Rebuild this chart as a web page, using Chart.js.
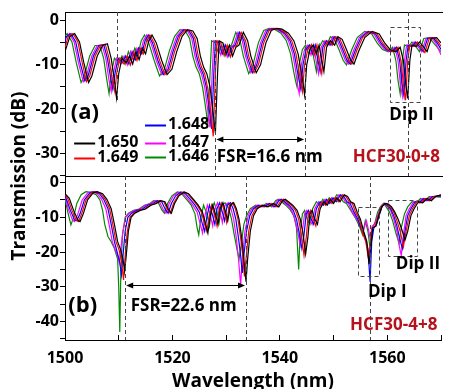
<!DOCTYPE html>
<html><head><meta charset="utf-8">
<script src="https://cdn.jsdelivr.net/npm/chart.js@4.4.1/dist/chart.umd.min.js"></script>
<style>html,body{margin:0;padding:0;background:#fff;overflow:hidden}#wrap{width:455px;height:389px}</style>
</head><body><div id="wrap"><canvas id="c" width="455" height="389"></canvas></div>
<script>
// ---- series labels / colours
const seriesLabels = ['1.650','1.649','1.648','1.647','1.646'];
const seriesColors = ['#000000','#ff0000','#0000ff','#ff00ff','#008a00'];
// ---- x ticks
const xTicks = [1500,1510,1520,1530,1540,1550,1560,1570];
// ---- panel (a) HCF30-0+8 : [wavelength nm, transmission dB]
const a650 = [[1500.0,-7.0],[1500.9,-3.6],[1501.8,-2.9],[1502.7,-4.8],[1503.5,-9.5],[1504.4,-14.0],[1505.0,-12.5],[1506.0,-8.0],[1507.0,-5.6],[1507.9,-5.2],[1508.6,-8.5],[1509.2,-13.5],[1509.6,-17.5],[1510.0,-12.0],[1510.6,-8.5],[1511.4,-9.5],[1512.0,-8.0],[1512.6,-9.8],[1513.2,-7.0],[1513.8,-8.8],[1514.4,-6.2],[1515.0,-7.5],[1515.6,-4.5],[1516.2,-3.2],[1517.0,-5.0],[1518.0,-9.0],[1519.0,-12.2],[1519.9,-11.0],[1520.8,-7.0],[1521.8,-3.5],[1522.8,-2.0],[1523.8,-2.3],[1524.6,-4.0],[1525.2,-8.0],[1525.8,-10.5],[1526.4,-12.0],[1527.0,-15.0],[1527.5,-20.0],[1528.0,-25.5],[1528.4,-12.0],[1528.7,-4.5],[1529.4,-5.0],[1530.0,-7.5],[1530.6,-5.5],[1531.2,-8.0],[1531.8,-6.0],[1532.4,-5.5],[1533.2,-2.6],[1534.0,-4.5],[1534.6,-8.0],[1535.6,-11.8],[1536.4,-10.0],[1537.4,-5.0],[1538.4,-2.2],[1539.4,-1.7],[1540.4,-1.9],[1541.6,-2.8],[1542.6,-4.5],[1543.4,-7.5],[1543.9,-11.0],[1544.3,-14.0],[1544.6,-16.8],[1545.0,-10.0],[1545.6,-6.5],[1546.2,-5.5],[1546.8,-7.5],[1547.3,-5.5],[1547.8,-9.0],[1548.2,-11.5],[1548.7,-6.0],[1549.4,-4.5],[1550.2,-5.5],[1550.8,-3.6],[1551.6,-4.2],[1552.4,-6.5],[1553.2,-9.0],[1553.8,-9.8],[1554.8,-6.5],[1555.8,-3.8],[1557.2,-2.4],[1558.5,-3.0],[1559.5,-5.0],[1560.5,-6.5],[1561.6,-7.0],[1562.4,-6.0],[1563.0,-9.0],[1563.4,-14.0],[1563.8,-17.6],[1564.2,-9.0],[1564.6,-5.5],[1565.4,-5.8],[1566.0,-4.8],[1566.8,-6.0],[1567.4,-7.0],[1568.2,-4.0],[1569.2,-3.8],[1570.0,-5.0]];
const a649 = [[1500.0,-6.0],[1500.6,-3.6],[1501.5,-2.9],[1502.4,-4.8],[1503.2,-9.5],[1504.0,-13.8],[1504.6,-12.5],[1505.6,-8.0],[1506.6,-5.6],[1507.5,-5.3],[1508.2,-8.5],[1508.8,-13.5],[1509.3,-16.2],[1509.6,-12.0],[1510.2,-8.5],[1511.0,-9.8],[1511.6,-8.0],[1512.2,-10.0],[1512.8,-7.0],[1513.4,-9.0],[1514.0,-6.2],[1514.6,-7.5],[1515.2,-4.5],[1515.8,-3.2],[1516.6,-5.0],[1517.6,-9.0],[1518.6,-12.2],[1519.5,-11.0],[1520.4,-7.0],[1521.4,-3.5],[1522.4,-2.0],[1523.4,-2.3],[1524.2,-4.0],[1524.8,-8.0],[1525.4,-10.5],[1526.0,-12.0],[1526.6,-15.5],[1527.1,-20.5],[1527.6,-26.2],[1528.0,-12.0],[1528.3,-4.5],[1529.0,-5.0],[1529.6,-7.8],[1530.2,-5.5],[1530.8,-8.2],[1531.4,-6.0],[1532.0,-5.5],[1532.8,-2.6],[1533.6,-4.5],[1534.2,-8.0],[1535.2,-11.8],[1536.0,-10.0],[1537.0,-5.0],[1538.0,-2.2],[1539.0,-1.7],[1540.0,-1.9],[1541.2,-2.8],[1542.2,-4.5],[1543.0,-7.5],[1543.5,-11.0],[1543.9,-14.0],[1544.2,-16.0],[1544.6,-10.0],[1545.2,-6.5],[1545.8,-5.5],[1546.4,-7.8],[1546.9,-5.5],[1547.4,-9.5],[1547.8,-12.0],[1548.3,-6.0],[1549.0,-4.5],[1549.8,-5.5],[1550.4,-3.6],[1551.2,-4.2],[1552.0,-6.5],[1552.8,-9.0],[1553.4,-9.8],[1554.4,-6.5],[1555.4,-3.8],[1556.8,-2.4],[1558.1,-3.0],[1559.1,-5.0],[1560.1,-6.5],[1561.2,-7.0],[1562.0,-6.0],[1562.6,-9.5],[1563.0,-14.5],[1563.4,-18.0],[1563.8,-9.0],[1564.2,-5.5],[1565.0,-5.8],[1565.6,-4.8],[1566.4,-6.0],[1567.0,-7.2],[1567.8,-4.0],[1568.8,-3.8],[1569.6,-5.0],[1570.0,-5.8]];
const a648 = [[1500.0,-5.0],[1500.2,-3.6],[1501.1,-2.9],[1502.0,-4.8],[1502.8,-9.5],[1503.7,-13.6],[1504.3,-12.5],[1505.3,-8.0],[1506.3,-5.6],[1507.2,-5.4],[1507.9,-8.5],[1508.5,-13.0],[1508.9,-15.5],[1509.3,-12.0],[1509.9,-8.5],[1510.7,-9.5],[1511.3,-8.0],[1511.9,-9.8],[1512.5,-7.0],[1513.1,-8.8],[1513.7,-6.2],[1514.3,-7.5],[1514.9,-4.5],[1515.5,-3.2],[1516.3,-5.0],[1517.3,-9.0],[1518.3,-12.2],[1519.2,-11.0],[1520.1,-7.0],[1521.1,-3.5],[1522.1,-2.0],[1523.1,-2.3],[1523.9,-4.0],[1524.5,-8.0],[1525.1,-10.5],[1525.7,-12.0],[1526.3,-15.0],[1526.8,-19.5],[1527.3,-24.5],[1527.7,-12.0],[1528.0,-4.5],[1528.7,-5.0],[1529.3,-7.5],[1529.9,-5.5],[1530.5,-8.0],[1531.1,-6.0],[1531.7,-5.5],[1532.5,-2.6],[1533.3,-4.5],[1533.9,-8.0],[1534.9,-11.8],[1535.7,-10.0],[1536.7,-5.0],[1537.7,-2.2],[1538.7,-1.7],[1539.7,-1.9],[1540.9,-2.8],[1541.9,-4.5],[1542.7,-7.5],[1543.2,-11.0],[1543.6,-13.5],[1543.9,-15.5],[1544.3,-10.0],[1544.9,-6.5],[1545.5,-5.5],[1546.1,-7.5],[1546.6,-5.5],[1547.1,-9.0],[1547.5,-11.5],[1548.0,-6.0],[1548.7,-4.5],[1549.5,-5.5],[1550.1,-3.6],[1550.9,-4.2],[1551.7,-6.5],[1552.5,-9.0],[1553.1,-9.8],[1554.1,-6.5],[1555.1,-3.8],[1556.5,-2.4],[1557.8,-3.0],[1558.8,-5.0],[1559.8,-6.5],[1560.9,-7.0],[1561.7,-6.0],[1562.3,-9.0],[1562.7,-14.0],[1563.1,-17.0],[1563.5,-9.0],[1563.9,-5.5],[1564.7,-5.8],[1565.3,-4.8],[1566.1,-6.0],[1566.7,-7.0],[1567.5,-4.0],[1568.5,-3.8],[1569.3,-5.0],[1570.0,-6.5]];
const a647 = [[1500.0,-4.2],[1500.8,-2.9],[1501.7,-4.8],[1502.5,-9.5],[1503.4,-13.8],[1504.0,-12.5],[1505.0,-8.0],[1506.0,-5.6],[1506.9,-5.5],[1507.6,-8.5],[1508.2,-13.5],[1508.6,-16.0],[1509.0,-12.0],[1509.6,-8.5],[1510.4,-9.8],[1511.0,-8.0],[1511.6,-10.0],[1512.2,-7.0],[1512.8,-9.0],[1513.4,-6.2],[1514.0,-7.5],[1514.6,-4.5],[1515.2,-3.2],[1516.0,-5.0],[1517.0,-9.0],[1518.0,-12.2],[1518.9,-11.0],[1519.8,-7.0],[1520.8,-3.5],[1521.8,-2.0],[1522.8,-2.3],[1523.6,-4.0],[1524.2,-8.0],[1524.8,-10.5],[1525.4,-12.0],[1526.0,-15.0],[1526.5,-19.5],[1527.0,-24.2],[1527.4,-12.0],[1527.7,-4.5],[1528.4,-5.0],[1529.0,-7.8],[1529.6,-5.5],[1530.2,-8.2],[1530.8,-6.0],[1531.4,-5.5],[1532.2,-2.6],[1533.0,-4.5],[1533.6,-8.0],[1534.6,-11.8],[1535.4,-10.0],[1536.4,-5.0],[1537.4,-2.2],[1538.4,-1.7],[1539.4,-1.9],[1540.6,-2.8],[1541.6,-4.5],[1542.4,-7.5],[1542.9,-11.0],[1543.3,-14.5],[1543.6,-16.5],[1544.0,-10.0],[1544.6,-6.5],[1545.2,-5.5],[1545.8,-7.8],[1546.3,-5.5],[1546.8,-9.5],[1547.2,-12.0],[1547.7,-6.0],[1548.4,-4.5],[1549.2,-5.5],[1549.8,-3.6],[1550.6,-4.2],[1551.4,-6.5],[1552.2,-9.0],[1552.8,-9.8],[1553.8,-6.5],[1554.8,-3.8],[1556.2,-2.4],[1557.5,-3.0],[1558.5,-5.0],[1559.5,-6.5],[1560.6,-7.0],[1561.4,-6.0],[1562.0,-9.0],[1562.4,-14.0],[1562.8,-17.0],[1563.2,-9.0],[1563.6,-5.5],[1564.4,-5.8],[1565.0,-4.8],[1565.8,-6.0],[1566.4,-7.0],[1567.2,-4.0],[1568.2,-3.8],[1569.0,-5.0],[1570.0,-7.7]];
const a646 = [[1500.0,-3.4],[1500.4,-2.9],[1501.3,-4.8],[1502.1,-9.5],[1503.0,-14.0],[1503.6,-12.5],[1504.6,-8.0],[1505.6,-5.6],[1506.5,-5.6],[1507.2,-8.5],[1507.8,-13.5],[1508.2,-16.5],[1508.6,-12.0],[1509.2,-8.5],[1510.0,-9.5],[1510.6,-8.0],[1511.2,-9.8],[1511.8,-7.0],[1512.4,-8.8],[1513.0,-6.2],[1513.6,-7.5],[1514.2,-4.5],[1514.8,-3.2],[1515.6,-5.0],[1516.6,-9.0],[1517.6,-12.5],[1518.5,-11.0],[1519.4,-7.0],[1520.4,-3.5],[1521.4,-2.0],[1522.4,-2.3],[1523.2,-4.0],[1523.8,-8.0],[1524.4,-10.5],[1525.0,-12.0],[1525.6,-15.0],[1526.1,-19.0],[1526.6,-23.5],[1527.0,-12.0],[1527.3,-4.5],[1528.0,-5.0],[1528.6,-7.5],[1529.2,-5.5],[1529.8,-8.0],[1530.4,-6.0],[1531.0,-5.5],[1531.8,-2.6],[1532.6,-4.5],[1533.2,-8.0],[1534.2,-12.0],[1535.0,-10.0],[1536.0,-5.0],[1537.0,-2.2],[1538.0,-1.7],[1539.0,-1.9],[1540.2,-2.8],[1541.2,-4.5],[1542.0,-7.5],[1542.5,-11.0],[1542.9,-13.5],[1543.2,-15.0],[1543.6,-10.0],[1544.2,-6.5],[1544.8,-5.5],[1545.4,-7.5],[1545.9,-5.5],[1546.4,-9.0],[1546.8,-11.5],[1547.3,-6.0],[1548.0,-4.5],[1548.8,-5.5],[1549.4,-3.6],[1550.2,-4.2],[1551.0,-6.5],[1551.8,-9.0],[1552.4,-10.0],[1553.4,-6.5],[1554.4,-3.8],[1555.8,-2.4],[1557.1,-3.0],[1558.1,-5.0],[1559.1,-6.5],[1560.2,-7.0],[1561.0,-6.0],[1561.6,-9.0],[1562.0,-13.5],[1562.4,-16.5],[1562.8,-9.0],[1563.2,-5.5],[1564.0,-5.8],[1564.6,-4.8],[1565.4,-6.0],[1566.0,-7.0],[1566.8,-4.0],[1567.8,-3.8],[1568.6,-5.0],[1570.0,-7.0]];
// ---- panel (b) HCF30-4+8
const b650 = [[1500.0,-3.2],[1500.8,-4.5],[1501.6,-8.0],[1502.4,-10.8],[1502.8,-11.2],[1503.4,-9.0],[1504.2,-5.0],[1505.2,-3.0],[1506.0,-2.6],[1507.0,-3.2],[1507.8,-4.8],[1508.6,-7.5],[1509.2,-12.0],[1509.8,-17.0],[1510.4,-19.5],[1510.8,-22.0],[1511.1,-25.5],[1511.4,-21.0],[1511.8,-14.0],[1512.3,-10.0],[1513.0,-8.8],[1514.0,-8.0],[1515.0,-7.6],[1516.0,-6.5],[1517.0,-6.0],[1517.8,-5.2],[1518.6,-5.5],[1519.3,-7.8],[1519.8,-8.8],[1520.4,-6.0],[1521.2,-3.8],[1522.2,-2.7],[1523.0,-3.2],[1524.0,-5.0],[1524.8,-6.5],[1525.6,-8.5],[1526.2,-12.0],[1526.6,-14.5],[1527.0,-10.0],[1527.5,-6.5],[1528.0,-9.0],[1528.5,-12.0],[1528.9,-7.5],[1529.4,-5.8],[1529.9,-8.5],[1530.3,-11.0],[1530.8,-6.5],[1531.4,-5.8],[1531.9,-7.5],[1532.4,-10.5],[1532.9,-16.0],[1533.3,-22.0],[1533.7,-28.5],[1534.0,-22.0],[1534.5,-14.0],[1535.1,-9.5],[1535.8,-7.5],[1536.8,-6.5],[1537.8,-7.0],[1538.8,-6.0],[1539.8,-7.0],[1540.5,-5.2],[1541.0,-4.8],[1541.6,-5.5],[1542.4,-6.5],[1543.2,-8.0],[1543.8,-10.5],[1544.3,-14.5],[1544.8,-20.5],[1545.2,-16.0],[1545.6,-9.0],[1546.0,-8.0],[1546.5,-10.5],[1547.0,-12.0],[1547.5,-7.5],[1548.2,-5.5],[1548.8,-6.5],[1549.4,-4.8],[1550.0,-6.0],[1550.6,-4.4],[1551.2,-5.5],[1552.0,-3.5],[1552.6,-4.0],[1553.2,-5.5],[1553.8,-6.0],[1554.4,-8.5],[1555.0,-10.5],[1555.6,-14.0],[1556.2,-17.0],[1556.6,-23.5],[1556.9,-19.0],[1557.3,-13.0],[1557.9,-12.5],[1558.4,-9.5],[1559.0,-7.0],[1559.6,-6.0],[1560.2,-6.2],[1560.8,-7.0],[1561.4,-8.5],[1562.0,-10.5],[1562.6,-13.0],[1563.3,-16.5],[1563.8,-14.0],[1564.4,-9.5],[1565.0,-7.5],[1565.8,-5.5],[1566.6,-5.8],[1567.4,-4.6],[1568.2,-5.2],[1569.0,-4.0],[1570.0,-3.5]];
const b649 = [[1500.0,-3.5],[1500.5,-4.5],[1501.3,-8.0],[1502.1,-10.8],[1502.5,-11.2],[1503.1,-9.0],[1503.9,-5.0],[1504.9,-3.0],[1505.7,-2.6],[1506.7,-3.2],[1507.5,-4.8],[1508.3,-7.5],[1508.9,-12.0],[1509.5,-17.0],[1510.1,-19.5],[1510.5,-22.5],[1510.9,-28.0],[1511.2,-21.0],[1511.6,-14.0],[1512.1,-10.0],[1512.8,-8.8],[1513.8,-8.0],[1514.8,-7.6],[1515.8,-6.5],[1516.8,-6.0],[1517.6,-5.2],[1518.4,-5.5],[1519.1,-7.8],[1519.6,-8.8],[1520.2,-6.0],[1521.0,-3.8],[1522.0,-2.7],[1522.8,-3.2],[1523.8,-5.0],[1524.6,-6.5],[1525.4,-8.5],[1526.0,-12.0],[1526.4,-14.0],[1526.8,-10.0],[1527.3,-6.5],[1527.8,-9.0],[1528.3,-12.5],[1528.7,-7.5],[1529.2,-5.8],[1529.7,-8.5],[1530.1,-11.5],[1530.6,-6.5],[1531.2,-5.8],[1531.7,-7.5],[1532.2,-10.5],[1532.7,-16.0],[1533.1,-21.0],[1533.4,-27.0],[1533.7,-22.0],[1534.2,-14.0],[1534.8,-9.5],[1535.5,-7.5],[1536.5,-6.5],[1537.5,-7.0],[1538.5,-6.0],[1539.5,-7.0],[1540.2,-5.2],[1540.7,-4.8],[1541.3,-5.5],[1542.1,-6.5],[1542.9,-8.0],[1543.5,-10.5],[1544.0,-15.0],[1544.5,-21.0],[1544.9,-16.0],[1545.3,-9.0],[1545.7,-8.0],[1546.2,-10.5],[1546.7,-12.5],[1547.2,-7.5],[1547.9,-5.5],[1548.5,-6.5],[1549.1,-4.8],[1549.7,-6.0],[1550.3,-4.4],[1550.9,-5.5],[1551.7,-3.5],[1552.3,-4.0],[1552.9,-5.5],[1553.5,-6.0],[1554.1,-8.5],[1554.8,-10.5],[1555.4,-14.5],[1556.0,-17.0],[1556.5,-22.0],[1556.8,-18.0],[1557.2,-13.0],[1557.8,-12.5],[1558.3,-9.5],[1558.9,-7.0],[1559.5,-6.0],[1560.0,-6.2],[1560.6,-7.0],[1561.2,-8.5],[1561.8,-11.0],[1562.4,-14.0],[1563.0,-18.5],[1563.5,-14.0],[1564.1,-9.5],[1564.7,-7.5],[1565.5,-5.5],[1566.3,-5.8],[1567.1,-4.6],[1567.9,-5.2],[1568.7,-4.0],[1570.0,-3.6]];
const b648 = [[1500.0,-3.4],[1500.2,-4.5],[1501.0,-8.0],[1501.8,-10.8],[1502.2,-11.0],[1502.8,-9.0],[1503.6,-5.0],[1504.6,-3.0],[1505.4,-2.6],[1506.4,-3.2],[1507.2,-4.8],[1508.0,-7.5],[1508.6,-12.0],[1509.2,-17.0],[1509.8,-20.5],[1510.2,-23.0],[1510.5,-26.5],[1510.8,-21.0],[1511.2,-14.0],[1511.7,-10.0],[1512.4,-8.8],[1513.4,-8.0],[1514.4,-7.6],[1515.4,-6.5],[1516.4,-6.0],[1517.2,-5.2],[1518.0,-5.5],[1518.7,-7.8],[1519.2,-8.8],[1519.8,-6.0],[1520.6,-3.8],[1521.6,-2.7],[1522.4,-3.2],[1523.4,-5.0],[1524.2,-6.5],[1525.0,-8.5],[1525.6,-12.0],[1526.0,-14.0],[1526.4,-10.0],[1526.9,-6.5],[1527.4,-9.0],[1527.9,-12.0],[1528.3,-7.5],[1528.8,-5.8],[1529.3,-8.5],[1529.7,-11.0],[1530.2,-6.5],[1530.8,-5.8],[1531.3,-7.5],[1531.8,-10.5],[1532.3,-16.0],[1532.7,-21.0],[1533.0,-26.0],[1533.3,-21.0],[1533.8,-14.0],[1534.4,-9.5],[1535.1,-7.5],[1536.1,-6.5],[1537.1,-7.0],[1538.1,-6.0],[1539.1,-7.0],[1539.8,-5.2],[1540.3,-4.8],[1540.9,-5.5],[1541.7,-6.5],[1542.5,-8.0],[1543.1,-10.5],[1543.6,-14.5],[1544.1,-19.0],[1544.5,-15.0],[1544.9,-9.0],[1545.3,-8.0],[1545.8,-10.5],[1546.3,-12.0],[1546.8,-7.5],[1547.5,-5.5],[1548.1,-6.5],[1548.7,-4.8],[1549.3,-6.0],[1549.9,-4.4],[1550.5,-5.5],[1551.3,-3.5],[1551.9,-4.0],[1552.5,-5.5],[1553.1,-6.0],[1553.8,-8.5],[1554.5,-10.5],[1555.2,-13.5],[1555.8,-15.5],[1556.4,-19.0],[1556.8,-28.5],[1557.1,-17.0],[1557.5,-13.0],[1558.0,-12.0],[1558.5,-9.5],[1559.0,-7.0],[1559.5,-6.0],[1560.0,-6.5],[1560.6,-7.5],[1561.2,-9.5],[1561.8,-12.5],[1562.3,-16.0],[1562.8,-19.0],[1563.3,-14.0],[1563.8,-9.5],[1564.4,-7.5],[1565.2,-5.5],[1566.0,-5.8],[1566.8,-4.6],[1567.6,-5.2],[1568.4,-4.0],[1570.0,-3.8]];
const b647 = [[1500.0,-4.0],[1500.6,-7.5],[1501.4,-10.8],[1501.8,-11.2],[1502.4,-9.0],[1503.2,-5.0],[1504.2,-3.0],[1505.0,-2.6],[1506.0,-3.2],[1506.8,-4.8],[1507.6,-7.5],[1508.2,-12.0],[1508.8,-17.0],[1509.4,-19.5],[1509.8,-21.0],[1510.1,-23.0],[1510.4,-19.0],[1510.8,-14.0],[1511.3,-10.0],[1512.0,-8.8],[1513.0,-8.0],[1514.0,-7.6],[1515.0,-6.5],[1516.0,-6.0],[1516.8,-5.2],[1517.6,-5.5],[1518.3,-7.8],[1518.8,-8.8],[1519.4,-6.0],[1520.2,-3.8],[1521.2,-2.7],[1522.0,-3.2],[1523.0,-5.0],[1523.8,-6.5],[1524.6,-8.5],[1525.2,-12.0],[1525.6,-14.5],[1526.0,-10.0],[1526.5,-6.5],[1527.0,-9.0],[1527.5,-12.5],[1527.9,-7.5],[1528.4,-5.8],[1528.9,-8.5],[1529.3,-11.5],[1529.8,-6.5],[1530.4,-5.8],[1530.9,-7.5],[1531.4,-10.5],[1531.9,-16.0],[1532.3,-22.0],[1532.7,-29.5],[1533.0,-22.0],[1533.5,-14.0],[1534.1,-9.5],[1534.8,-7.5],[1535.8,-6.5],[1536.8,-7.0],[1537.8,-6.0],[1538.8,-7.0],[1539.5,-5.2],[1540.0,-4.8],[1540.6,-5.5],[1541.4,-6.5],[1542.2,-8.0],[1542.8,-10.5],[1543.3,-14.0],[1543.8,-18.0],[1544.2,-14.0],[1544.6,-9.0],[1545.0,-8.0],[1545.5,-10.5],[1546.0,-12.0],[1546.5,-7.5],[1547.2,-5.5],[1547.8,-6.5],[1548.4,-4.8],[1549.0,-6.0],[1549.6,-4.4],[1550.2,-5.5],[1551.0,-3.5],[1551.6,-4.0],[1552.2,-5.5],[1552.8,-6.0],[1553.5,-8.5],[1554.3,-10.5],[1555.0,-12.0],[1555.6,-13.5],[1556.1,-11.0],[1556.5,-13.5],[1556.8,-16.0],[1557.2,-12.5],[1557.7,-12.0],[1558.3,-9.0],[1558.9,-7.0],[1559.4,-6.0],[1560.0,-6.8],[1560.6,-8.0],[1561.2,-10.5],[1561.8,-14.0],[1562.2,-18.0],[1562.6,-21.0],[1563.0,-15.0],[1563.5,-9.5],[1564.1,-7.5],[1564.9,-5.5],[1565.7,-5.8],[1566.5,-4.6],[1567.3,-5.2],[1568.1,-4.0],[1570.0,-4.0]];
const b646 = [[1500.0,-4.8],[1500.6,-9.0],[1501.1,-12.2],[1501.6,-10.0],[1502.2,-6.0],[1503.0,-3.5],[1503.9,-2.6],[1504.8,-2.8],[1505.8,-3.5],[1506.5,-5.0],[1507.0,-8.0],[1507.4,-12.0],[1508.0,-15.5],[1508.6,-17.0],[1509.2,-19.0],[1509.8,-22.0],[1510.0,-30.0],[1510.2,-43.0],[1510.4,-25.0],[1510.7,-15.0],[1511.2,-10.0],[1511.8,-8.8],[1512.8,-8.0],[1513.8,-7.6],[1514.8,-6.5],[1515.8,-6.0],[1516.5,-5.2],[1517.3,-5.5],[1518.0,-7.8],[1518.5,-8.8],[1519.1,-6.0],[1519.9,-3.8],[1520.9,-2.7],[1521.7,-3.2],[1522.7,-5.0],[1523.5,-6.5],[1524.2,-9.0],[1524.6,-13.0],[1524.9,-15.0],[1525.3,-10.0],[1525.8,-6.5],[1526.4,-9.0],[1526.9,-12.5],[1527.3,-7.5],[1527.8,-5.8],[1528.3,-8.5],[1528.7,-11.5],[1529.2,-6.5],[1529.8,-5.8],[1530.5,-7.5],[1531.0,-10.5],[1531.5,-15.0],[1532.0,-19.0],[1532.4,-22.0],[1532.8,-18.0],[1533.3,-12.0],[1533.8,-9.5],[1534.5,-7.5],[1535.5,-6.5],[1536.5,-7.0],[1537.5,-6.0],[1538.5,-7.0],[1539.2,-5.2],[1539.7,-4.8],[1540.3,-5.5],[1541.1,-6.5],[1541.9,-7.8],[1542.6,-9.5],[1543.1,-13.0],[1543.5,-25.0],[1543.8,-14.0],[1544.2,-9.0],[1544.6,-8.0],[1545.1,-10.5],[1545.6,-12.0],[1546.1,-7.5],[1546.8,-5.5],[1547.4,-6.5],[1548.0,-4.8],[1548.6,-6.0],[1549.2,-4.4],[1549.8,-5.5],[1550.6,-3.5],[1551.2,-4.0],[1551.8,-5.5],[1552.4,-6.0],[1553.2,-8.0],[1554.0,-10.0],[1554.8,-12.5],[1555.4,-15.0],[1555.9,-11.0],[1556.4,-14.0],[1556.8,-19.0],[1557.2,-13.0],[1557.7,-11.5],[1558.2,-8.5],[1558.8,-6.8],[1559.3,-6.0],[1559.8,-7.0],[1560.4,-8.5],[1561.0,-11.0],[1561.6,-14.5],[1562.2,-17.5],[1562.6,-13.0],[1563.2,-9.0],[1563.8,-7.0],[1564.6,-5.5],[1565.4,-5.8],[1566.2,-4.6],[1567.0,-5.2],[1567.8,-4.0],[1570.0,-4.2]];

// ---- annotations (data units)
const dashA = [[1509.7,2,-18],[1528.0,2,-36],[1544.7,2,-36],[1563.9,2,-36]];
const dashB = [[1511.2,2,-46],[1533.7,2,-46],[1556.8,2,-46]];
const boxA = [[1560.5,1566.0,-1.5,-18.4]];
const boxB = [[1554.5,1558.5,-7.0,-26.8],[1560.1,1565.5,-5.0,-21.1]];
const fsrA = {x1:1528.0,x2:1544.7,y:-26.7,tx:1538.1,ty:-30.9,text:'FSR=16.6 nm'};
const fsrB = {x1:1511.2,x2:1533.7,y:-29.4,tx:1522.1,ty:-35.6,text:'FSR=22.6 nm'};

const FONT = "'Open Sans', 'Liberation Sans', sans-serif";
const panelA = [a650,a649,a648,a647,a646];
const panelB = [b650,b649,b648,b647,b646];
const datasets = [];
panelA.forEach((d,i)=>datasets.push({label:seriesLabels[i],data:d.map(p=>({x:p[0],y:p[1]})),yAxisID:'yA',borderColor:seriesColors[i],borderWidth:1.2,pointRadius:0,fill:false,tension:0,order:i}));
panelB.forEach((d,i)=>datasets.push({label:seriesLabels[i]+' (b)',data:d.map(p=>({x:p[0],y:p[1]})),yAxisID:'yB',borderColor:seriesColors[i],borderWidth:1.2,pointRadius:0,fill:false,tension:0,order:i}));

function yAxis(min,max){
  return {type:'linear',position:'left',stack:'panels',stackWeight:1,min:min,max:max,
    afterFit:s=>{s.width=65;},
    border:{display:true,color:'#000',width:1},
    grid:{drawOnChartArea:false,drawTicks:true,tickLength:5,color:'#000'},
    ticks:{stepSize:5,includeBounds:false,autoSkip:false,padding:1,color:'#000',font:{family:FONT,size:16,weight:'bold'},
      callback:v=>(v%10===0?String(v):'')}};
}

const annot = {
  id:'annot',
  beforeDraw(c){const g=c.ctx;g.save();g.fillStyle='#fff';g.fillRect(0,0,c.width,c.height);g.restore();},
  afterDatasetsDraw(c){
    const g=c.ctx, X=c.scales.x, A=c.scales.yA, B=c.scales.yB, ar=c.chartArea;
    const px=v=>X.getPixelForValue(v);
    g.save();
    g.strokeStyle='#000'; g.lineWidth=1; g.setLineDash([]);
    g.beginPath();
    g.moveTo(ar.left,Math.round(A.top)+0.5); g.lineTo(ar.right+2,Math.round(A.top)+0.5);
    g.moveTo(ar.left,Math.round(A.bottom)+0.5); g.lineTo(ar.right+2,Math.round(A.bottom)+0.5);
    g.stroke();
    g.strokeStyle='#444'; g.setLineDash([4,3]);
    const vl=(arr,S)=>arr.forEach(d=>{const x=Math.round(px(d[0]))+0.5;g.beginPath();g.moveTo(x,Math.max(S.getPixelForValue(d[1]),S.top));g.lineTo(x,Math.min(S.getPixelForValue(d[2]),S.bottom));g.stroke();});
    vl(dashA,A); vl(dashB,B);
    const bx=(arr,S)=>arr.forEach(b=>{const x1=Math.round(px(b[0]))+0.5,x2=Math.round(px(b[1]))+0.5,y1=Math.round(S.getPixelForValue(b[2]))+0.5,y2=Math.round(S.getPixelForValue(b[3]))+0.5;g.strokeRect(x1,y1,x2-x1,y2-y1);});
    bx(boxA,A); bx(boxB,B);
    g.setLineDash([]);
    const arrow=(f,S)=>{const x1=px(f.x1)+1,x2=px(f.x2)-1,y=Math.round(S.getPixelForValue(f.y))+0.5;
      g.strokeStyle='#000';g.fillStyle='#000';g.lineWidth=1;
      g.beginPath();g.moveTo(x1+5,y);g.lineTo(x2-5,y);g.stroke();
      g.beginPath();g.moveTo(x1,y);g.lineTo(x1+7,y-3);g.lineTo(x1+7,y+3);g.closePath();g.fill();
      g.beginPath();g.moveTo(x2,y);g.lineTo(x2-7,y-3);g.lineTo(x2-7,y+3);g.closePath();g.fill();
      g.font='bold 17px '+FONT;g.textAlign='center';g.textBaseline='middle';
      g.fillText(f.text,px(f.tx),S.getPixelForValue(f.ty));};
    arrow(fsrA,A); arrow(fsrB,B);
    const txt=(t,x,y,S,size,color)=>{g.font='bold '+size+'px '+FONT;g.fillStyle=color;g.textAlign='center';g.textBaseline='middle';g.fillText(t,px(x),S.getPixelForValue(y));};
    txt('(a)',1503.7,-20.9,A,22,'#000');
    txt('(b)',1503.3,-35.4,B,22,'#000');
    txt('Dip II',1564.5,-21.4,A,17,'#000');
    txt('HCF30-0+8',1561.7,-30.9,A,17,'#b5121b');
    txt('Dip I',1560.0,-31.4,B,17,'#000');
    txt('Dip II',1565.7,-23.6,B,17,'#000');
    txt('HCF30-4+8',1561.2,-40.9,B,17,'#b5121b');
    const slots=[[1501.7,-27.7],[1501.7,-31.2],[1514.9,-23.6],[1514.9,-27.7],[1514.9,-31.0]];
    g.font='bold 16px '+FONT;g.textAlign='left';g.textBaseline='middle';
    slots.forEach((s,i)=>{const x=px(s[0]),y=Math.round(A.getPixelForValue(s[1]))+0.5;
      g.strokeStyle=seriesColors[i];g.lineWidth=2;g.beginPath();g.moveTo(x,y);g.lineTo(x+21,y);g.stroke();
      g.fillStyle='#000';g.fillText(seriesLabels[i],x+23,y-1);});
    g.save();g.translate(20,(A.top+B.bottom)/2);g.rotate(-Math.PI/2);
    g.font='bold 19px '+FONT;g.fillStyle='#000';g.textAlign='center';g.textBaseline='middle';
    g.fillText('Transmission (dB)',0,0);g.restore();
    g.restore();
  }
};

new Chart(document.getElementById('c'),{
  type:'line',
  data:{datasets:datasets},
  options:{
    responsive:false,animation:false,devicePixelRatio:1,
    layout:{padding:{top:12,right:2,left:0,bottom:0}},
    plugins:{legend:{display:false},tooltip:{enabled:false}},
    scales:{
      x:{type:'linear',position:'bottom',min:1500,max:1570,
        afterFit:s=>{s.height=49;},
        afterBuildTicks:s=>{s.ticks=xTicks.map(v=>({value:v}));},
        border:{display:true,color:'#000',width:1},
        grid:{drawOnChartArea:false,drawTicks:true,tickLength:-5,color:'#000'},
        ticks:{autoSkip:false,maxRotation:0,padding:14,color:'#000',font:{family:FONT,size:16,weight:'bold'},
          callback:v=>(v%20===0?String(v):'')},
        title:{display:true,text:'Wavelength (nm)',color:'#000',padding:0,font:{family:FONT,size:19,weight:'bold',lineHeight:0.8}}},
      yB:yAxis(-45.3,1.9),
      yA:yAxis(-35.2,2.0)
    }
  },
  plugins:[annot]
});
</script></body></html>
